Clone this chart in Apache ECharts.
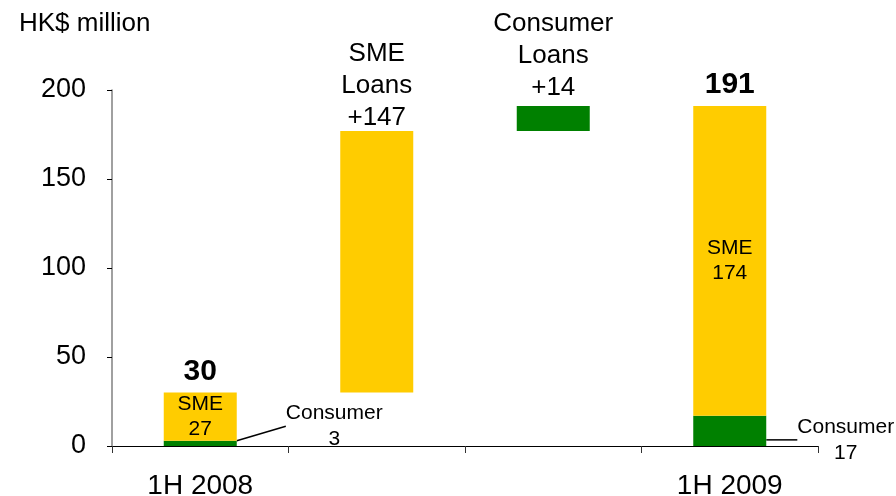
<!DOCTYPE html>
<html>
<head>
<meta charset="utf-8">
<script src="https://cdn.jsdelivr.net/npm/echarts@6/dist/echarts.min.js"></script>
<style>
  html, body { margin: 0; padding: 0; background: #fff; }
  #chart { width: 896px; height: 496px; }
</style>
</head>
<body>
<div id="chart"></div>
<script>
// Waterfall: 1H 2008 total, SME and consumer increments, 1H 2009 total
const categories = ['1H 2008', '', '', '1H 2009'];
const baseValues = [0, 30, 177, 0];          // invisible offset for floating steps
const consumerValues = [3, '-', 14, 17];
const smeValues = [27, 147, '-', 174];
const totalValues = [30, '-', '-', 191];
const yTicks = { min: 0, max: 200, interval: 50 };

const FONT = '"Liberation Sans", Arial, sans-serif';
const GREEN = '#008000';
const YELLOW = '#FFCC00';
const BAR_W = 73;

const consumerLabels = ['Consumer\n3', '', 'Consumer\nLoans\n+14', 'Consumer\n17'];
const smeLabels = ['SME\n27', 'SME\nLoans\n+147', '', 'SME\n174'];

const chart = echarts.init(document.getElementById('chart'));

const consumerData = consumerValues.map((v, i) => {
  if (v === '-') return v;
  if (i === 2) {
    return { value: v, labelLine: { show: false },
      label: { show: true, position: 'top', distance: 2, formatter: consumerLabels[i],
        fontSize: 26, lineHeight: 32, color: '#000', fontFamily: FONT } };
  }
  return { value: v, label: { show: true, position: 'inside', formatter: consumerLabels[i],
    fontSize: 21, lineHeight: 26, color: '#000', fontFamily: FONT } };
});

const smeData = smeValues.map((v, i) => {
  if (v === '-') return v;
  if (i === 1) {
    return { value: v, label: { show: true, position: 'top', distance: -3, formatter: smeLabels[i],
      fontSize: 26, lineHeight: 32, color: '#000', fontFamily: FONT } };
  }
  return { value: v, label: { show: true, position: 'inside', formatter: smeLabels[i],
    fontSize: 21, lineHeight: 25, color: '#000', fontFamily: FONT } };
});

chart.setOption({
  animation: false,
  title: {
    text: 'HK$ million',
    left: 14, top: 6,
    textStyle: { fontSize: 26, fontWeight: 'normal', color: '#000', fontFamily: FONT }
  },
  grid: { left: 112, right: 78, top: 90, bottom: 50, containLabel: false, outerBoundsMode: 'none' },
  xAxis: {
    type: 'category',
    data: categories,
    axisLine: { lineStyle: { color: '#000', width: 1 } },
    axisTick: { show: true, length: 7, lineStyle: { color: '#333' } },
    axisLabel: { fontSize: 28, color: '#000', fontFamily: FONT, margin: 26, interval: 0 }
  },
  yAxis: {
    type: 'value',
    min: yTicks.min, max: yTicks.max, interval: yTicks.interval,
    splitLine: { show: false },
    axisLine: { show: true, lineStyle: { color: '#808080', width: 1.5 } },
    axisTick: { show: true, length: 5, lineStyle: { color: '#000' } },
    axisLabel: { fontSize: 27, color: '#000', fontFamily: FONT, margin: 26 }
  },
  series: [
    {
      name: 'base', type: 'bar', stack: 'w', barWidth: BAR_W, barGap: '-100%',
      itemStyle: { color: 'transparent' }, silent: true,
      data: baseValues
    },
    {
      name: 'Consumer', type: 'bar', stack: 'w', barWidth: BAR_W, barGap: '-100%',
      itemStyle: { color: GREEN },
      data: consumerData,
      labelLine: { show: true, lineStyle: { color: '#000', width: 1.5 } },
      labelLayout: function (p) {
        if (p.dataIndex === 0) return { dx: 134, dy: -17 };
        if (p.dataIndex === 3) return { dx: 116, dy: 9 };
        return {};
      }
    },
    {
      name: 'SME', type: 'bar', stack: 'w', barWidth: BAR_W, barGap: '-100%',
      itemStyle: { color: YELLOW },
      data: smeData
    },
    {
      name: 'Total', type: 'bar', barWidth: BAR_W, barGap: '-100%', z: 1,
      itemStyle: { color: 'transparent' }, silent: true,
      data: totalValues,
      label: { show: true, position: 'top', distance: 6, formatter: '{c}',
        fontSize: 30, fontWeight: 'bold', color: '#000', fontFamily: FONT }
    }
  ]
});
</script>
</body>
</html>
